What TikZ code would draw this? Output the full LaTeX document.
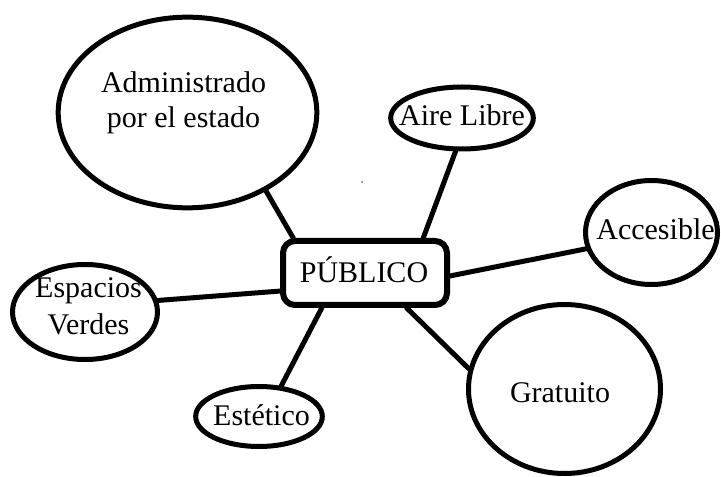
\documentclass[tikz,border=0pt]{standalone}
\usepackage{fontspec}
\setmainfont{Liberation Serif}
\usetikzlibrary{shapes.geometric}
\begin{document}
\begin{tikzpicture}[x=0.75pt,y=-0.75pt,
  bubble/.style={ellipse,draw=black,line width=3.75pt,fill=white,inner sep=0pt},
  hub/.style={rectangle,rounded corners=9pt,draw=black,line width=4.5pt,fill=white,inner sep=0pt},
  txt/.style={inner sep=0pt,align=center,font=\fontsize{22.5}{26.25}\selectfont},
  link/.style={line width=3.75pt,line cap=round}]
\useasboundingbox[fill=white] (0,0) rectangle (721,477);
% shapes
\node[hub, minimum width=123pt, minimum height=48pt] (pub) at (365,273) {};
\node[bubble, minimum width=194pt, minimum height=143pt] (adm) at (187.5,112.5) {};
\node[bubble, minimum width=107pt, minimum height=46.5pt] (aire) at (462,118) {};
\node[bubble, minimum width=99pt, minimum height=78pt] (acc) at (651.5,232.5) {};
\node[bubble, minimum width=108.75pt, minimum height=71.25pt] (esp) at (85,312) {};
\node[bubble, minimum width=95pt, minimum height=45pt] (est) at (259,416.5) {};
\node[bubble, minimum width=144pt, minimum height=126.75pt] (grat) at (564.5,389) {};
% texts
\node[txt, anchor=north] (tadm) at (183.5,71.5) {Administrado\\por el estado};
\node[txt, anchor=base] (taire) at (462,126) {Aire Libre};
\node[txt, anchor=base] (tacc) at (655.5,240) {Accesible};
\node[txt, anchor=base] (tpub) at (364,282) {PÚBLICO};
\node[txt, anchor=north, font=\fontsize{22.5}{27.75}\selectfont] (tesp) at (88.5,277.5) {Espacios\\Verdes};
\node[txt, anchor=base] (test) at (261.5,425) {Estético};
\node[txt, anchor=base] (tgrat) at (560,402) {Gratuito};
% connectors
\draw[link] (adm.-45) -- (pub.154);
\draw[link] (aire.-101.6) -- (pub.31.6);
\draw[link] (pub.-2.7) -- (acc.194);
\draw[link] (esp.9.8) -- (pub.-168.7);
\draw[link] (pub.-141.3) -- (est.54.7);
\draw[link] (pub.-40.7) -- (grat.168);
% stray dot
\fill[black!60] (362,182) circle (1);
\end{tikzpicture}
\end{document}
